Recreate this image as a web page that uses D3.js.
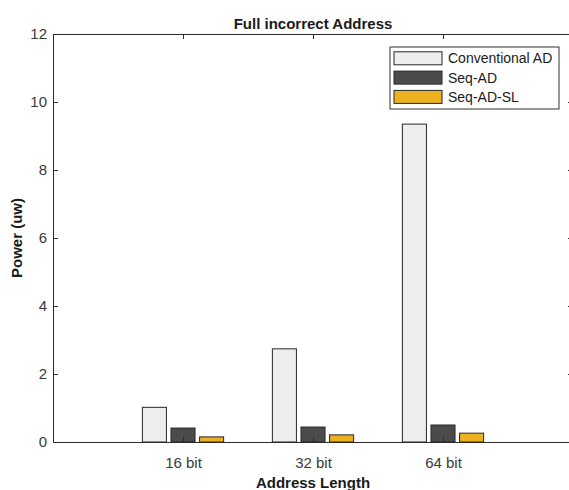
<!DOCTYPE html>
<html>
<head>
<meta charset="utf-8">
<script src="https://cdn.jsdelivr.net/npm/d3@7"></script>
<style>
  body { margin: 0; background: #fff; }
  svg { display: block; font-family: "Liberation Sans", Arial, sans-serif; }
</style>
</head>
<body>
<svg></svg>
<script>
//chart data
let categories = ["16 bit", "32 bit", "64 bit"];
let seriesNames = ["Conventional AD", "Seq-AD", "Seq-AD-SL"];
let conventionalAD = [1.02, 2.74, 9.35];
let seqAD = [0.41, 0.44, 0.5];
let seqADSL = [0.15, 0.21, 0.26];
let yTicks = [0, 2, 4, 6, 8, 10, 12];
let colors = ["#eeeeee", "#4b4b4b", "#edb120"];

//dimension for canvas (plot box edges)
let width = 569;
let height = 490;
let plotLeft = 53;
let plotRight = 573;
let plotTop = 34;
let plotBottom = 442;
let axisColor = "#2b2b2b";
let textColor = "#3a3a3a";

let svg = d3.select("svg").attr("width", width).attr("height", height);

//x runs from 0 to 4 so the three groups sit at 1, 2, 3 like matlab
let xScale = d3.scaleLinear().domain([0, 4]).range([plotLeft, plotRight]);
let yScale = d3.scaleLinear().domain([0, 12]).range([plotBottom, plotTop]);

let barWidth = 0.185;
let offsets = [-0.22, 0, 0.22];
let series = [conventionalAD, seqAD, seqADSL];

//bars
series.forEach((values, s) => {
  svg
    .append("g")
    .selectAll("rect")
    .data(values)
    .enter()
    .append("rect")
    .attr("x", (d, i) => xScale(i + 1 + offsets[s] - barWidth / 2))
    .attr("width", xScale(barWidth) - xScale(0))
    .attr("y", (d) => yScale(d))
    .attr("height", (d) => yScale(0) - yScale(d))
    .attr("fill", colors[s])
    .attr("stroke", "#262626")
    .attr("stroke-width", 1);
});

//axes, ticks pointing inward
let styleAxis = (g) => {
  g.select(".domain").attr("stroke", axisColor);
  g.selectAll(".tick line").attr("stroke", axisColor);
  g.selectAll(".tick text")
    .attr("fill", textColor)
    .style("font-size", "15px")
    .style("font-family", "Liberation Sans, Arial, sans-serif");
};

let xAxis = d3
  .axisBottom(xScale)
  .tickValues([1, 2, 3])
  .tickFormat((d) => categories[d - 1])
  .tickSizeInner(-5)
  .tickSizeOuter(0)
  .tickPadding(15);
svg
  .append("g")
  .attr("transform", "translate(0," + plotBottom + ")")
  .call(xAxis)
  .call(styleAxis);

let xAxisTop = d3
  .axisTop(xScale)
  .tickValues([1, 2, 3])
  .tickFormat("")
  .tickSizeInner(-5)
  .tickSizeOuter(0);
svg
  .append("g")
  .attr("transform", "translate(0," + plotTop + ")")
  .call(xAxisTop)
  .call(styleAxis);

let yAxis = d3
  .axisLeft(yScale)
  .tickValues(yTicks)
  .tickSizeInner(-5)
  .tickSizeOuter(0)
  .tickPadding(6);
svg
  .append("g")
  .attr("transform", "translate(" + plotLeft + ",0)")
  .call(yAxis)
  .call(styleAxis);

let yAxisRight = d3
  .axisRight(yScale)
  .tickValues(yTicks)
  .tickFormat("")
  .tickSizeInner(-5)
  .tickSizeOuter(0);
svg
  .append("g")
  .attr("transform", "translate(" + plotRight + ",0)")
  .call(yAxisRight)
  .call(styleAxis);

//title and axis labels
svg
  .append("text")
  .attr("x", (plotLeft + plotRight) / 2)
  .attr("y", 29)
  .attr("text-anchor", "middle")
  .attr("font-weight", "bold")
  .attr("font-size", 15)
  .attr("fill", "#1a1a1a")
  .text("Full incorrect Address");

svg
  .append("text")
  .attr("x", (plotLeft + plotRight) / 2)
  .attr("y", 488)
  .attr("text-anchor", "middle")
  .attr("font-weight", "bold")
  .attr("font-size", 15)
  .attr("fill", "#1a1a1a")
  .text("Address Length");

svg
  .append("text")
  .attr("transform", "translate(22," + (plotTop + plotBottom) / 2 + ") rotate(-90)")
  .attr("text-anchor", "middle")
  .attr("font-weight", "bold")
  .attr("font-size", 15)
  .attr("fill", "#1a1a1a")
  .text("Power (uw)");

//legend
let legend = svg.append("g").attr("transform", "translate(390,47)");
legend
  .append("rect")
  .attr("width", 169)
  .attr("height", 62)
  .attr("fill", "#fff")
  .attr("stroke", "#333");

seriesNames.forEach((name, i) => {
  let cy = 11.3 + i * 19.3;
  legend
    .append("rect")
    .attr("x", 4)
    .attr("y", cy - 6.5)
    .attr("width", 48)
    .attr("height", 13)
    .attr("fill", colors[i])
    .attr("stroke", "#262626");
  legend
    .append("text")
    .attr("x", 58)
    .attr("y", cy)
    .attr("dominant-baseline", "central")
    .attr("font-size", 14)
    .attr("fill", "#1a1a1a")
    .text(name);
});
</script>
</body>
</html>
